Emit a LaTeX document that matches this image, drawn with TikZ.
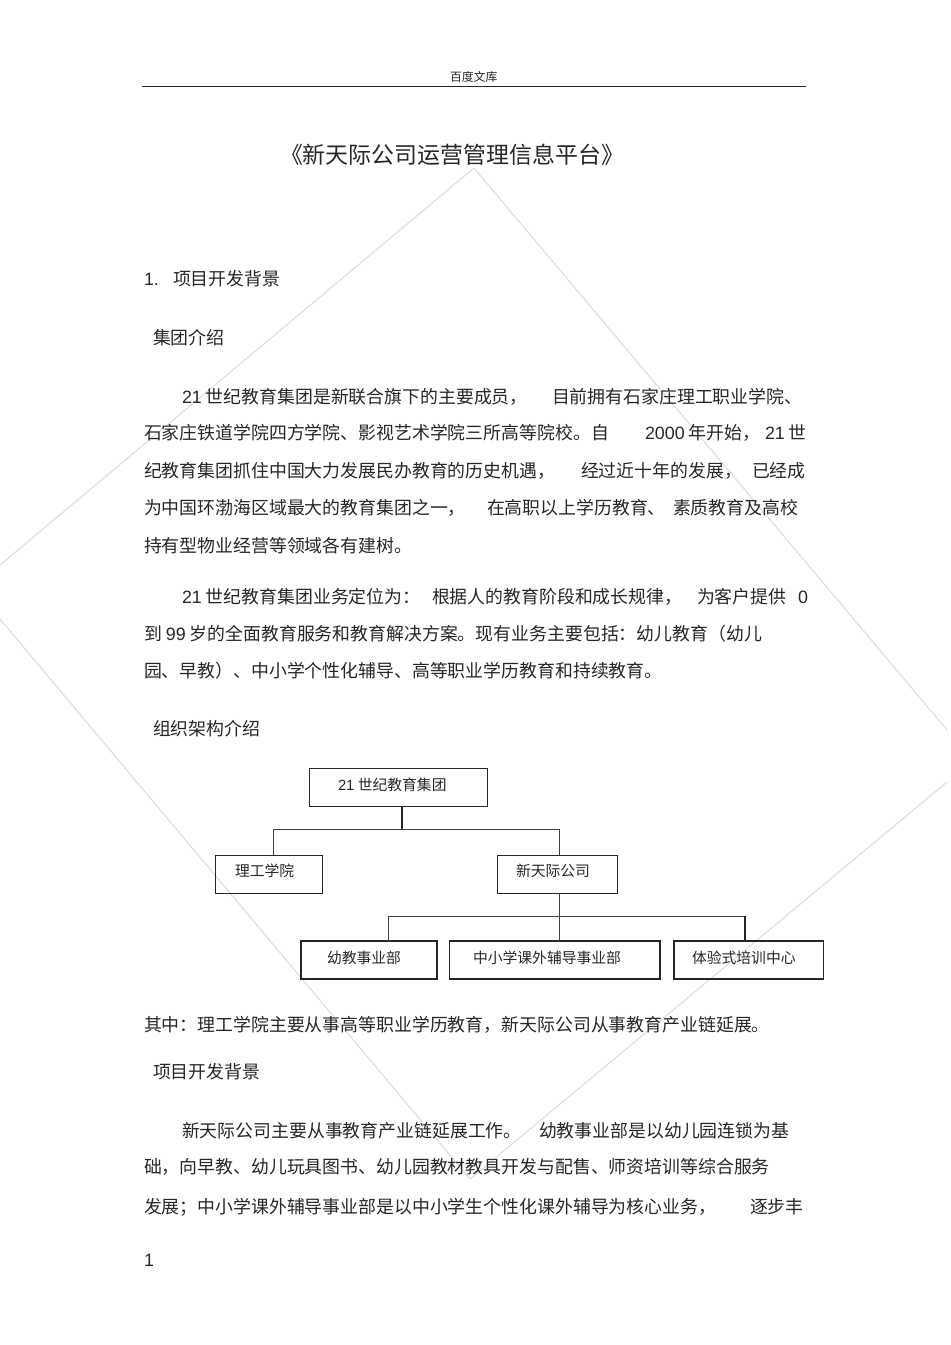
\documentclass[tikz,border=0pt]{standalone}
\usepackage{fontspec}
\setmainfont{Noto Sans CJK SC}
\newfontfamily\latfont{Liberation Sans}
\newcommand{\lat}[1]{{\latfont #1}}
\tikzset{
  tl/.style={anchor=base west,inner sep=0pt,outer sep=0pt,text=black!85,font=\fontsize{13.41pt}{13.41pt}\selectfont},
  hd/.style={tl,font=\fontsize{8.9pt}{9pt}\selectfont},
  ttl/.style={tl,font=\fontsize{17.2pt}{17.2pt}\selectfont},
  ot/.style={tl,font=\fontsize{11.1pt}{11.2pt}\selectfont},
  org/.style={draw=black!85,line width=0.7pt,inner sep=0pt,outer sep=0pt,minimum height=28.5pt},
  orgb/.style={org,line width=1pt},
  conn/.style={draw=black!75,line width=0.7pt},
  connb/.style={draw=black!85,line width=1.3pt},
  wm/.style={draw=black!15,line width=0.7pt}
}
\begin{document}
\begin{tikzpicture}[x=0.75pt,y=-0.75pt]
\useasboundingbox (0,0) rectangle (950,1345);
% watermark
\draw[wm] (0,565) -- (474,168) -- (947,730);
\draw[wm] (0,619) -- (470,1179) -- (947,782);
% header
\node[hd] (h) at (450,81) {百度文库};
\draw[draw=black!85,line width=0.8pt] (142,86.5) -- (806,86.5);
\node[ttl] (title) at (280,163) {《新天际公司运营管理信息平台》};
% body
\node[tl] (a0) at (144,285) {\lat{1.}};
\node[tl] (a1) at (173,285) {项目开发背景};
\node[tl] (a2) at (153,344) {集团介绍};
\node[tl] (b1) at (182,403) {\lat{21} 世纪教育集团是新联合旗下的主要成员，};
\node[tl] (b2) at (552,403) {目前拥有石家庄理工职业学院、};
\node[tl] (c1) at (144,439) {石家庄铁道学院四方学院、影视艺术学院三所高等院校。自};
\node[tl] (c2) at (645,439) {\lat{2000} 年开始，};
\node[tl] (c3) at (765,439) {\lat{21} 世};
\node[tl] (d1) at (144,477) {纪教育集团抓住中国大力发展民办教育的历史机遇，};
\node[tl] (d2) at (581,477) {经过近十年的发展，};
\node[tl] (d3) at (752,477) {已经成};
\node[tl] (e1) at (144,514) {为中国环渤海区域最大的教育集团之一，};
\node[tl] (e2) at (487,514) {在高职以上学历教育、};
\node[tl] (e3) at (673,514) {素质教育及高校};
\node[tl] (f1) at (144,552) {持有型物业经营等领域各有建树。};
\node[tl] (g1) at (182,603) {\lat{21} 世纪教育集团业务定位为：};
\node[tl] (g2) at (432,603) {根据人的教育阶段和成长规律，};
\node[tl] (g3) at (697,603) {为客户提供};
\node[tl] (g4) at (798,603) {\lat{0}};
\node[tl] (i1) at (144,640) {到 \lat{99} 岁的全面教育服务和教育解决方案。现有业务主要包括：幼儿教育（幼儿};
\node[tl] (j1) at (144,677) {园、早教）、中小学个性化辅导、高等职业学历教育和持续教育。};
\node[tl] (k1) at (153,735) {组织架构介绍};
% org chart
\node[org,minimum width=133pt] (top) at (398.5,787) {};
\node[org,minimum width=80pt] (lg) at (268.75,874) {};
\node[org,minimum width=90pt] (xt) at (557,874) {};
\node[orgb,minimum width=102pt] (yj) at (369,960) {};
\node[orgb,minimum width=158pt] (zx) at (554.5,960) {};
\node[orgb,minimum width=112pt] (ty) at (748.5,960) {};
\node[ot] (topt) at (338,790) {\lat{21} 世纪教育集团};
\node[ot] (lgt) at (235,876) {理工学院};
\node[ot] (xtt) at (516,876) {新天际公司};
\node[ot] (yjt) at (327,963) {幼教事业部};
\node[ot] (zxt) at (473,963) {中小学课外辅导事业部};
\node[ot] (tyt) at (692,963) {体验式培训中心};
\coordinate (jt) at (402,829);
\coordinate (jl) at (273,829);
\coordinate (jr) at (559,829);
\coordinate (jm) at (559,916);
\coordinate (ja) at (388,916);
\coordinate (jb) at (745,916);
\draw[connb] (top.south -| jt) -- (jt);
\draw[conn] (jl) -- (jr);
\draw[conn] (jl) -- (jl |- lg.north);
\draw[conn] (jr) -- (jr |- xt.north);
\draw[conn] (xt.south -| jm) -- (jm);
\draw[conn] (ja) -- (jb);
\draw[conn] (ja) -- (ja |- yj.north);
\draw[conn] (jm) -- (jm |- zx.north);
\draw[connb] (jb) -- (jb |- ty.north);
% lower text
\node[tl] (m1) at (144,1031) {其中：理工学院主要从事高等职业学历教育，新天际公司从事教育产业链延展。};
\node[tl] (m2) at (153,1078) {项目开发背景};
\node[tl] (n1) at (182,1137) {新天际公司主要从事教育产业链延展工作。};
\node[tl] (n2) at (539,1137) {幼教事业部是以幼儿园连锁为基};
\node[tl] (o1) at (144,1173) {础，向早教、幼儿玩具图书、幼儿园教材教具开发与配售、师资培训等综合服务};
\node[tl] (p1) at (144,1213) {发展；中小学课外辅导事业部是以中小学生个性化课外辅导为核心业务，};
\node[tl] (p2) at (750,1213) {逐步丰};
\node[tl] (pg) at (144,1266) {\lat{1}};
\end{tikzpicture}
\end{document}
